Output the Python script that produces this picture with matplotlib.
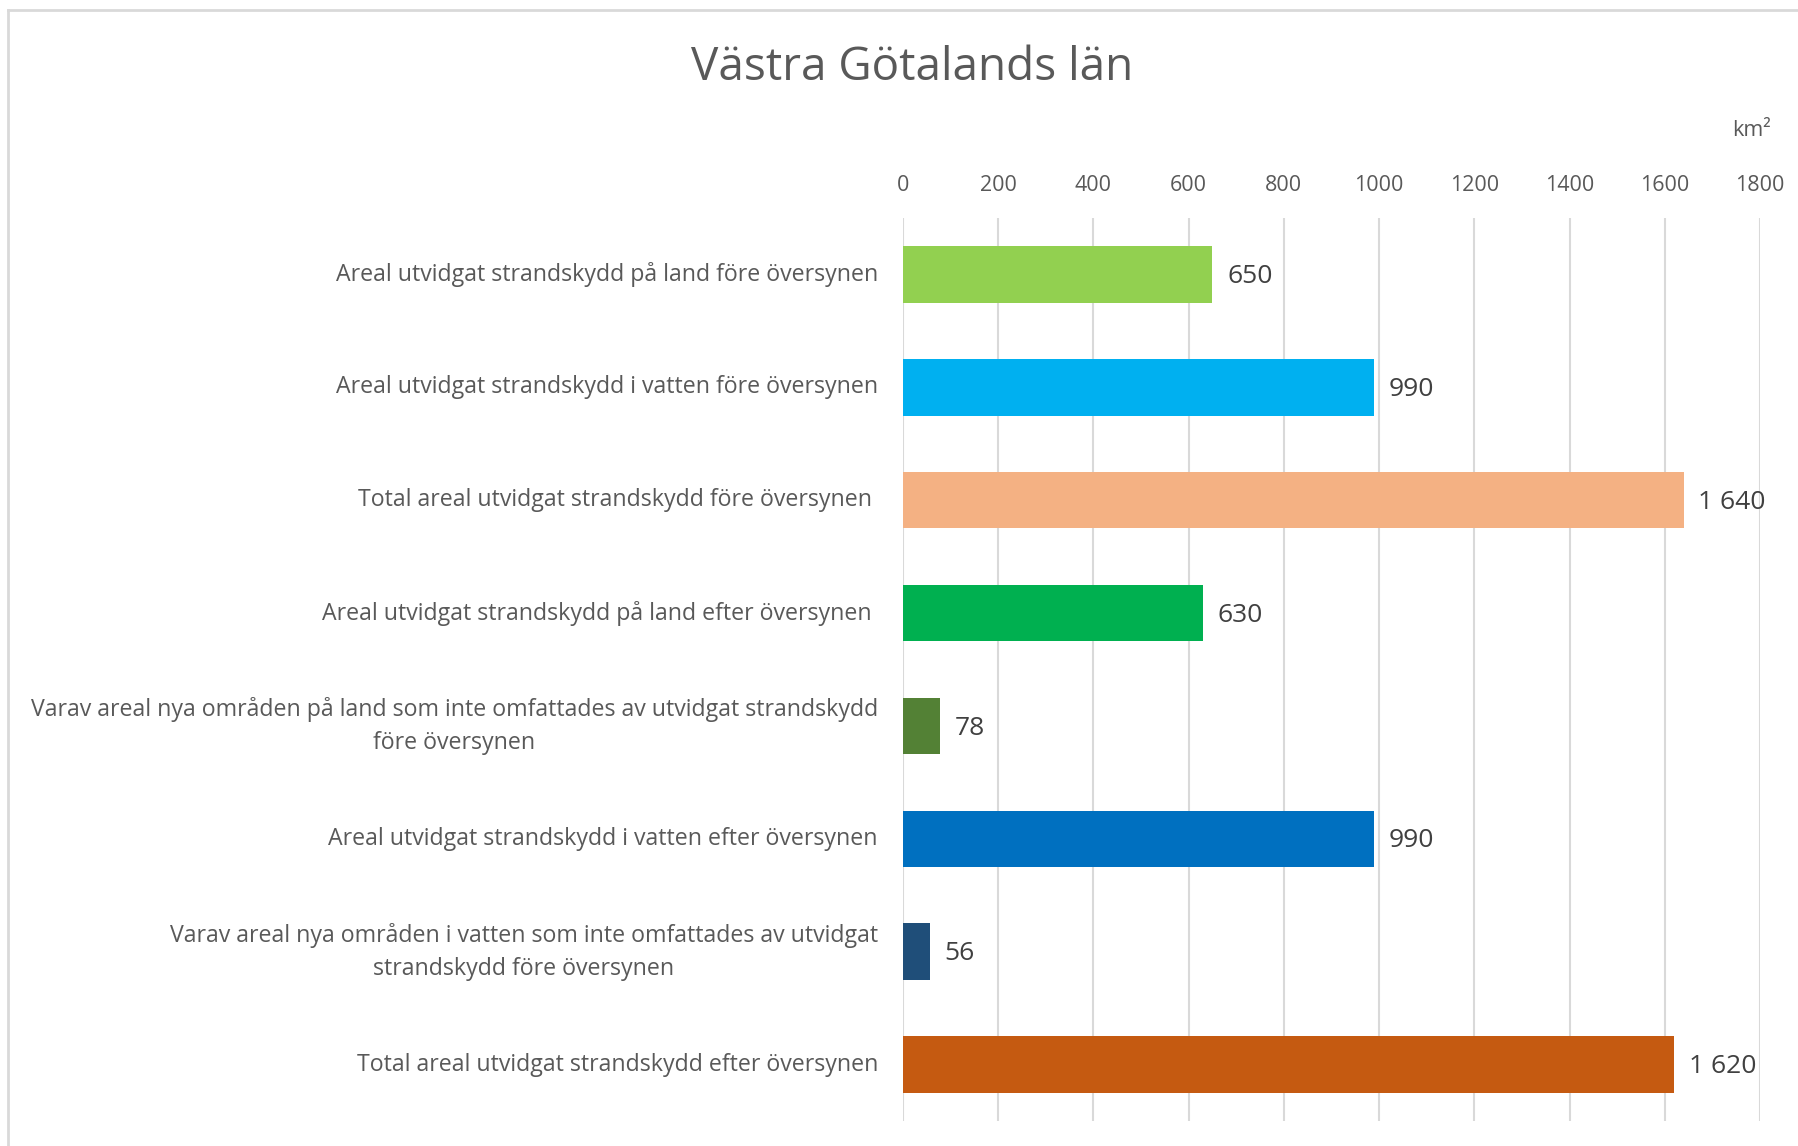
import numpy as np
import matplotlib.pyplot as plt
from matplotlib.lines import Line2D

plt.rcParams['font.family'] = ['Open Sans', 'DejaVu Sans']

# Data
categories = [
    'Areal utvidgat strandskydd på land före översynen',
    'Areal utvidgat strandskydd i vatten före översynen',
    'Total areal utvidgat strandskydd före översynen ',
    'Areal utvidgat strandskydd på land efter översynen ',
    'Varav areal nya områden på land som inte omfattades av utvidgat strandskydd\nföre översynen',
    'Areal utvidgat strandskydd i vatten efter översynen',
    'Varav areal nya områden i vatten som inte omfattades av utvidgat\nstrandskydd före översynen',
    'Total areal utvidgat strandskydd efter översynen',
]
values = [650, 990, 1640, 630, 78, 990, 56, 1620]
colors = ['#92D050', '#00B0F0', '#F4B183', '#00B050',
          '#538135', '#0070C0', '#1F4E79', '#C55A11']
xticks = [0, 200, 400, 600, 800, 1000, 1200, 1400, 1600, 1800]

W, H = 1798, 1146
fig = plt.figure(figsize=(W / 100, H / 100), dpi=100)
ax = fig.add_axes([903 / W, 1 - 1121 / H, (1760 - 903) / W, (1121 - 218) / H])

y = np.arange(len(categories))
ax.barh(y, values, height=0.5, color=colors, zorder=2)

ax.set_xlim(0, 1800)
ax.set_ylim(len(categories) - 0.5, -0.5)
ax.set_xticks(xticks)
ax.xaxis.tick_top()
ax.tick_params(axis='x', length=0, pad=16, labelsize=15.5, labelcolor='#595959')
ax.set_yticks(y)
ax.set_yticklabels(categories, fontsize=16.7, color='#595959',
                   multialignment='center', linespacing=1.5, va='center')
ax.tick_params(axis='y', length=0, pad=18)
ax.grid(axis='x', color='#D9D9D9', linewidth=1.5, zorder=0)
for s in ax.spines.values():
    s.set_visible(False)

def fmt(v):
    return f'{v:,}'.replace(',', ' ')

for yi, v in zip(y, values):
    ax.annotate(fmt(v), (v, yi), xytext=(10.5, -1.5), textcoords='offset points',
                va='center', ha='left', fontsize=19, color='#404040')

fig.text(912 / W, 1 - 68 / H, 'Västra Götalands län', ha='center', va='center',
         fontsize=33, color='#595959')
fig.text(1752 / W, 1 - 130 / H, 'km²', ha='center', va='center',
         fontsize=15.5, color='#595959')

# chart frame (top and left edges visible)
fig.add_artist(Line2D([8 / W, 1], [1 - 10 / H, 1 - 10 / H], color='#D9D9D9',
                      linewidth=2, transform=fig.transFigure))
fig.add_artist(Line2D([8 / W, 8 / W], [0, 1 - 10 / H], color='#D9D9D9',
                      linewidth=2, transform=fig.transFigure))

fig.savefig('out.png', dpi=100)
